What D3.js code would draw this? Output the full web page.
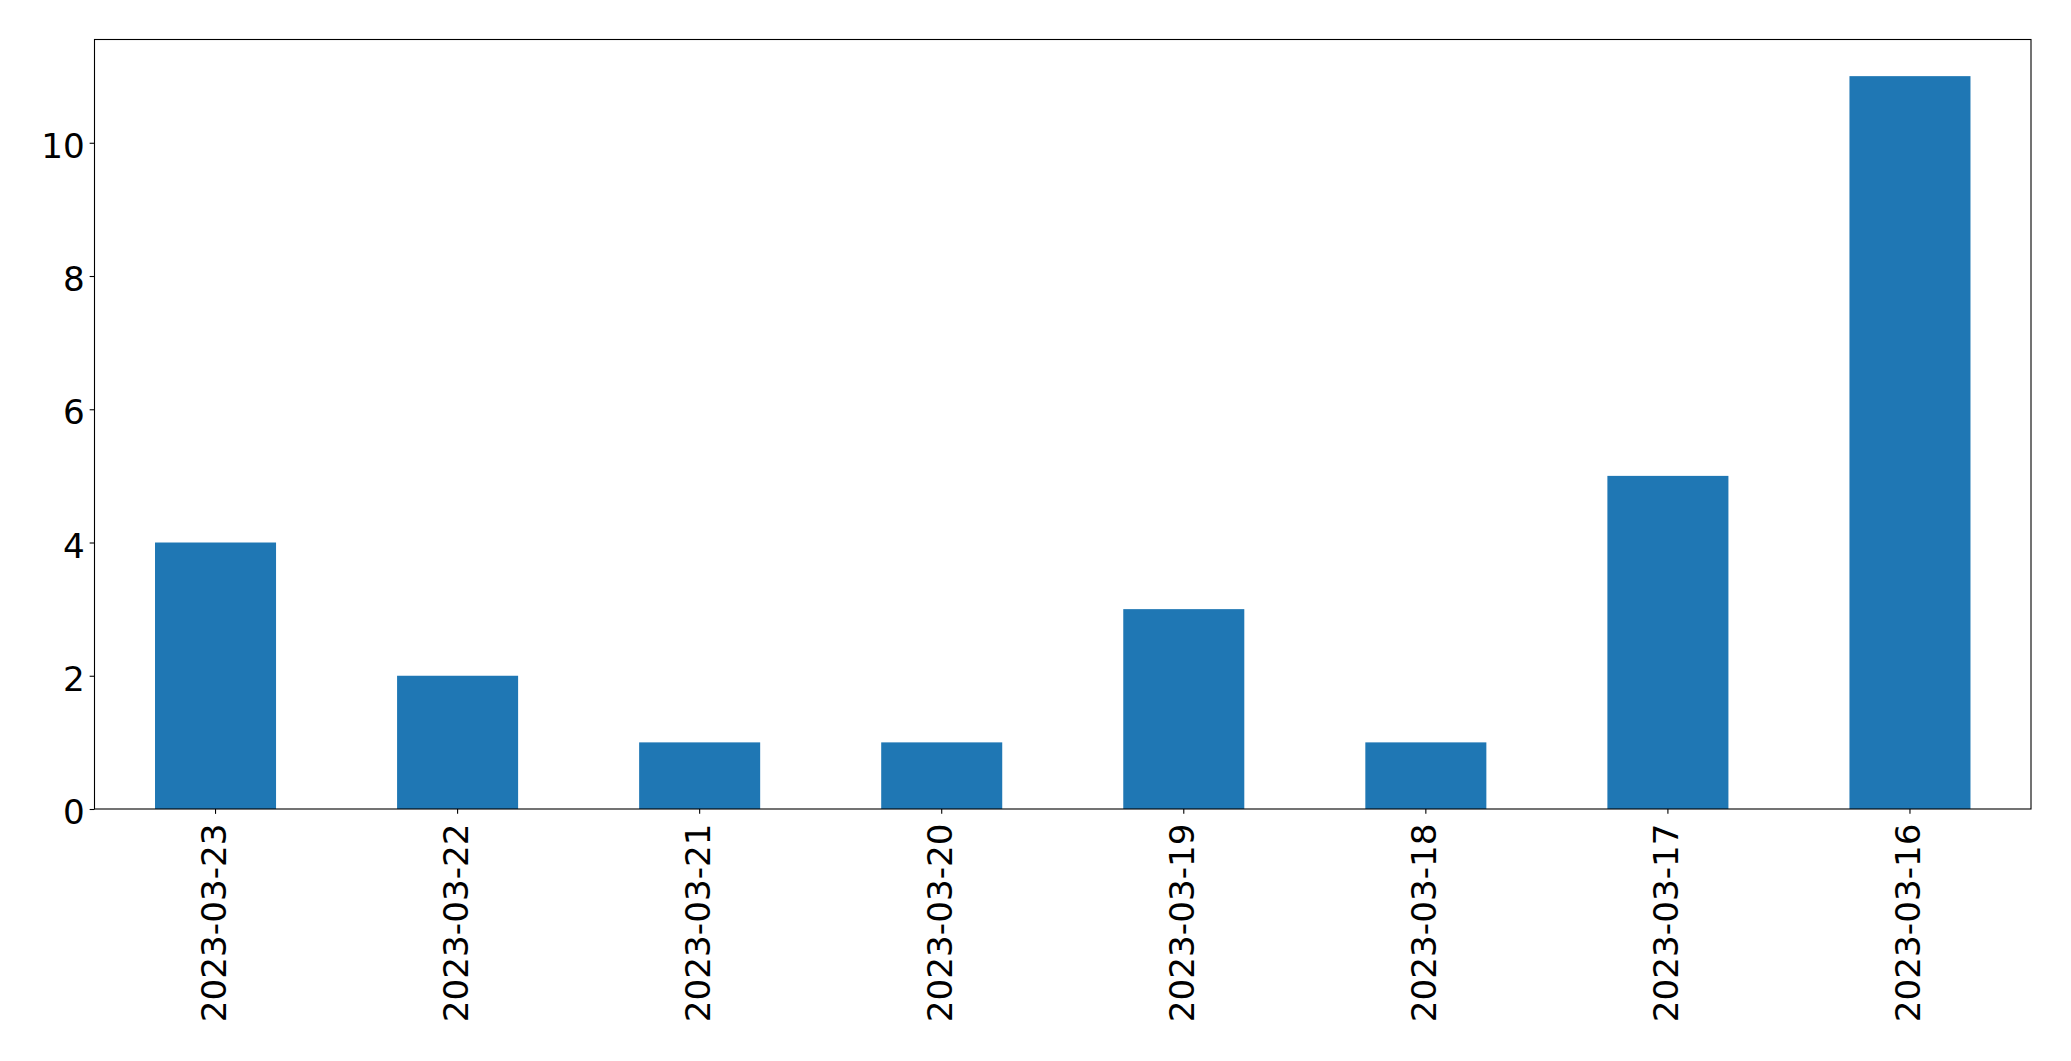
<!DOCTYPE html>
<html>
<head>
<meta charset="utf-8">
<script src="https://cdn.jsdelivr.net/npm/d3@7"></script>
<style>
html, body { margin: 0; padding: 0; background: #fff; }
svg { display: block; }
text { font-family: "DejaVu Sans", sans-serif; fill: #000; }
</style>
</head>
<body>
<svg id="chart" width="2071" height="1061"></svg>
<script>
const categories = ["2023-03-23", "2023-03-22", "2023-03-21", "2023-03-20", "2023-03-19", "2023-03-18", "2023-03-17", "2023-03-16"];
const values = [4, 2, 1, 1, 3, 1, 5, 11];
const yTicks = [0, 2, 4, 6, 8, 10];

const W = 2071, H = 1061;
const margin = { left: 94.5, right: 2071 - 2031, top: 39.5, bottom: 1061 - 809 };
const fontSize = 34.2;
const tickLen = 4.86, tickPad = 4.86;

const svg = d3.select("#chart");
const x = d3.scaleBand().domain(categories)
  .range([margin.left, W - margin.right])
  .paddingInner(0.5).paddingOuter(0.25);
const yMax = d3.max(values) * 1.05;
const y = d3.scaleLinear().domain([0, yMax]).range([H - margin.bottom, margin.top]);

svg.append("g").selectAll("rect").data(values).join("rect")
  .attr("x", (d, i) => x(categories[i]))
  .attr("width", x.bandwidth())
  .attr("y", d => y(d))
  .attr("height", d => y(0) - y(d))
  .attr("fill", "#1f77b4");

// Y axis
const yAxis = svg.append("g")
  .attr("transform", `translate(${margin.left},0)`)
  .call(d3.axisLeft(y).tickValues(yTicks).tickSize(tickLen).tickPadding(tickPad).tickFormat(d3.format("d")));
yAxis.select(".domain").remove();
yAxis.selectAll("line").attr("stroke", "#000").attr("stroke-width", 1.1);
yAxis.selectAll("text").attr("font-size", fontSize).attr("font-family", "DejaVu Sans").attr("fill", "#000")
  .attr("dy", "0.43em");

// X axis
const xAxis = svg.append("g")
  .attr("transform", `translate(0,${H - margin.bottom})`)
  .call(d3.axisBottom(x).tickSize(tickLen).tickPadding(tickPad));
xAxis.select(".domain").remove();
xAxis.selectAll("line").attr("stroke", "#000").attr("stroke-width", 1.1);
xAxis.selectAll("text")
  .attr("font-size", fontSize).attr("font-family", "DejaVu Sans").attr("fill", "#000")
  .attr("text-anchor", "end")
  .attr("transform", "translate(0,14.5) rotate(-90)")
  .attr("x", 0).attr("y", 0).attr("dy", "0.306em");

// Frame
svg.append("rect")
  .attr("x", margin.left).attr("y", margin.top)
  .attr("width", W - margin.right - margin.left)
  .attr("height", H - margin.bottom - margin.top)
  .attr("fill", "none").attr("stroke", "#000").attr("stroke-width", 1.1);
</script>
</body>
</html>
